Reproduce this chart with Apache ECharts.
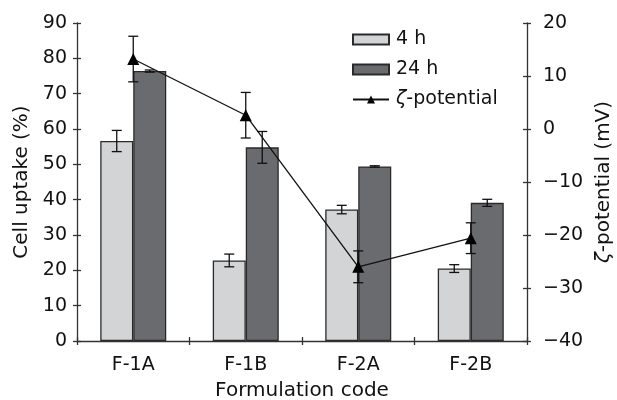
<!DOCTYPE html>
<html><head><meta charset="utf-8">
<script src="https://cdn.jsdelivr.net/npm/echarts@6/dist/echarts.min.js"></script>
<style>html,body{margin:0;padding:0;background:#fff}#c{width:617px;height:400px}</style>
</head><body><div id="c"></div>
<script>
var categories = ['F-1A', 'F-1B', 'F-2A', 'F-2B'];
var uptake4h = [56.6, 22.8, 37.2, 20.5];
var err4h = [3.0, 1.8, 1.2, 1.1];
var uptake24h = [76.4, 54.8, 49.4, 39.1];
var err24h = [0.3, 4.5, 0.2, 1.0];
var zeta = [13.2, 2.6, -26.0, -20.6];
var errZeta = [4.3, 4.3, 3.0, 2.9];

var FONT = 'DejaVu Sans';
var TXT = '#111';
var AX = '#333';
var BW = 33;

function errData(vals, errs) {
  return vals.map(function (v, i) { return [i, v - errs[i], v + errs[i]]; });
}
function errRender(offset) {
  return function (params, api) {
    var x = api.value(0);
    var lo = api.coord([x, api.value(1)]);
    var hi = api.coord([x, api.value(2)]);
    var cx = lo[0] + offset;
    var cap = 5;
    var st = { stroke: '#111', lineWidth: 1.3 };
    return { type: 'group', children: [
      { type: 'line', shape: { x1: cx, y1: lo[1], x2: cx, y2: hi[1] }, style: st },
      { type: 'line', shape: { x1: cx - cap, y1: lo[1], x2: cx + cap, y2: lo[1] }, style: st },
      { type: 'line', shape: { x1: cx - cap, y1: hi[1], x2: cx + cap, y2: hi[1] }, style: st }
    ]};
  };
}
var minus = function (v) { return String(v).replace('-', '\u2212'); };

var chart = echarts.init(document.getElementById('c'), null, { renderer: 'canvas' });
chart.setOption({
  animation: false,
  textStyle: { fontFamily: FONT },
  grid: { left: 77, right: 90, top: 23, bottom: 59, containLabel: false, outerBoundsMode: 'none' },
  legend: {
    orient: 'vertical', left: 347, top: 25, itemWidth: 36, itemHeight: 10, itemGap: 11,
    data: [{ name: '4 h', icon: 'rect' }, { name: '24 h', icon: 'rect' }, { name: 'ζ-potential' }],
    formatter: function (n) { return n === 'ζ-potential' ? '{i|ζ}-potential' : n; },
    textStyle: { fontFamily: FONT, fontSize: 19, color: TXT, padding: [0, 0, 0, 2],
      rich: { i: { fontStyle: 'italic', fontFamily: FONT, fontSize: 19, color: TXT } } }
  },
  xAxis: [{
    type: 'category', data: categories, boundaryGap: true,
    axisLine: { onZero: false, lineStyle: { color: AX, width: 1.3 } },
    axisTick: { show: true, length: 4, lineStyle: { color: AX, width: 1.3 } },
    axisLabel: { fontFamily: FONT, fontSize: 19, color: TXT, margin: 15 },
    name: 'Formulation code', nameLocation: 'middle', nameGap: 40,
    nameTextStyle: { fontFamily: FONT, fontSize: 20, color: TXT },
    splitLine: { show: false }
  }, {
    type: 'category', data: categories, position: 'bottom', boundaryGap: true,
    axisLine: { show: false, onZero: false }, axisLabel: { show: false },
    axisTick: { show: true, inside: true, length: 4, lineStyle: { color: AX, width: 1.3 } },
    splitLine: { show: false }
  }],
  yAxis: [{
    type: 'value', min: 0, max: 90, interval: 10, position: 'left',
    axisLine: { show: true, onZero: false, lineStyle: { color: AX, width: 1.3 } },
    axisTick: { show: true, length: 4, lineStyle: { color: AX, width: 1.3 } },
    axisLabel: { fontFamily: FONT, fontSize: 19, color: TXT, margin: 10 },
    splitLine: { show: false },
    name: 'Cell uptake (%)', nameLocation: 'middle', nameGap: 45, nameRotate: 90,
    nameTextStyle: { fontFamily: FONT, fontSize: 20, color: TXT }
  }, {
    type: 'value', min: -40, max: 20, interval: 10, position: 'right',
    axisLine: { show: true, onZero: false, lineStyle: { color: AX, width: 1.3 } },
    axisTick: { show: true, length: 4, lineStyle: { color: AX, width: 1.3 } },
    axisLabel: { fontFamily: FONT, fontSize: 19, color: TXT, margin: 16, formatter: minus },
    splitLine: { show: false },
    name: '{i|ζ}-potential (mV)', nameLocation: 'middle', nameGap: 63, nameRotate: 90,
    nameTextStyle: { fontFamily: FONT, fontSize: 20, color: TXT,
      rich: { i: { fontStyle: 'italic', fontFamily: FONT, fontSize: 20, color: TXT } } }
  }, {
    type: 'value', min: 0, max: 90, interval: 10, position: 'left',
    axisLine: { show: false, onZero: false }, axisLabel: { show: false }, splitLine: { show: false },
    axisTick: { show: true, inside: true, length: 4, lineStyle: { color: AX, width: 1.3 } }
  }, {
    type: 'value', min: -40, max: 20, interval: 10, position: 'right',
    axisLine: { show: false, onZero: false }, axisLabel: { show: false }, splitLine: { show: false },
    axisTick: { show: true, inside: true, length: 4, lineStyle: { color: AX, width: 1.3 } }
  }],
  series: [{
    name: '4 h', type: 'bar', data: uptake4h, barWidth: BW, barGap: '0%',
    itemStyle: { color: '#d3d4d6', borderColor: '#2a2a2a', borderWidth: 1.3 }
  }, {
    name: '24 h', type: 'bar', data: uptake24h, barWidth: BW, barGap: '0%',
    itemStyle: { color: '#6a6b6f', borderColor: '#2a2a2a', borderWidth: 1.3 }
  }, {
    name: 'err4h', type: 'custom', data: errData(uptake4h, err4h), renderItem: errRender(-BW / 2),
    encode: { x: 0, y: [1, 2] }, z: 5
  }, {
    name: 'err24h', type: 'custom', data: errData(uptake24h, err24h), renderItem: errRender(BW / 2),
    encode: { x: 0, y: [1, 2] }, z: 5
  }, {
    name: 'ζ-potential', type: 'line', yAxisIndex: 1, data: zeta,
    symbol: 'triangle', symbolSize: 12,
    itemStyle: { color: '#000' }, lineStyle: { color: '#111', width: 1.3 }, z: 6
  }, {
    name: 'errZeta', type: 'custom', yAxisIndex: 1, data: errData(zeta, errZeta), renderItem: errRender(0),
    encode: { x: 0, y: [1, 2] }, z: 6
  }]
});
</script></body></html>
